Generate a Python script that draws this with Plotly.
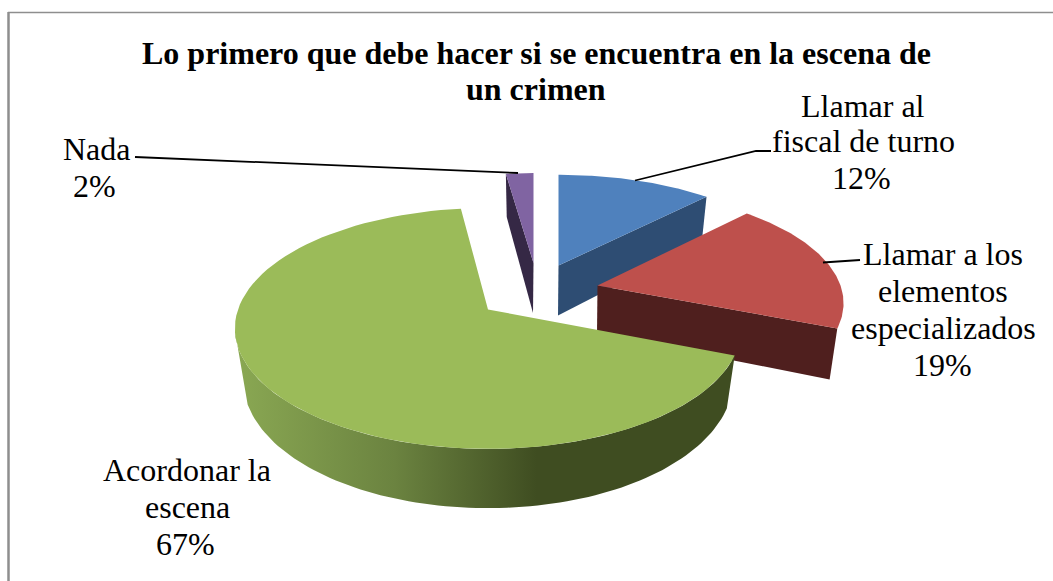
import math
import plotly.graph_objects as go

categories = ["Llamar al fiscal de turno", "Llamar a los elementos especializados", "Acordonar la escena", "Nada"]
values = [12, 19, 67, 2]
title_lines = ["Lo primero que debe hacer si se encuentra en la escena de", "un crimen"]
label_lines = [["Llamar al", "fiscal de turno"], ["Llamar a los", "elementos", "especializados"], ["Acordonar la", "escena"], ["Nada"]]

# drawing geometry (pixel-like axes): exploded apex, semi-axes, depth
apex = [(558.5, 265.5), (597.5, 285.5), (488, 309.5), (533.5, 263)]
semi = [(241, 105), (243, 110), (250, 117.5), (255, 104)]
depths = [50, 48, 50, 50]
top_colors = ["#4f81bd", "#be504c", "#9bbb59", "#8064a2"]
wall_colors = ["#2e4d73", "#4f1f1e", "#3f4d21", "#352845"]
PERSP = 0.157
SHRINK = 0.968
label_pos = [([863, 863, 861], [106, 141, 177.5]), ([943, 943, 943, 942], [254, 291, 328, 365]),
             ([187, 187, 185], [470, 507, 544]), ([97, 94], [149, 186])]
leaders = [[(635, 180.5), (756, 151), (771, 151)], [(823, 262.5), (860, 260)], None, [(135, 157), (518, 173)]]
SERIF = "Liberation Serif"

total = sum(values)
spans, acc = [], 0.0
for v in values:
    spans.append((acc, acc + v / total * 2 * math.pi))
    acc += v / total * 2 * math.pi


def pt(i, t, bottom=False):
    """Project the rim point at clock angle t of slice i."""
    cx, cy = apex[i]
    a, b = semi[i]
    X, Y = math.sin(t), math.cos(t)
    w = 1 + PERSP * Y
    dx, dy = a * X / w, b * Y / w
    if bottom:
        return cx + dx * SHRINK, cy - dy + depths[i] / w
    return cx + dx, cy - dy


def arc(i, t0, t1, bottom=False, n=90):
    return [pt(i, t0 + (t1 - t0) * k / n, bottom) for k in range(n + 1)]


fig = go.Figure()


def poly(points, color, name, gradient=None):
    kw = {"fillgradient": gradient} if gradient else {"fillcolor": color}
    fig.add_trace(go.Scatter(
        x=[p[0] for p in points] + [points[0][0]],
        y=[p[1] for p in points] + [points[0][1]],
        mode="lines", fill="toself", line=dict(width=0, color=color),
        hoverinfo="skip", showlegend=False, name=name, **kw))


def bottom_apex(i):
    return apex[i][0] - 0.5, apex[i][1] + depths[i]


# draw order, far to near: Nada, fiscal, elementos, acordonar
for i in [3, 0, 1, 2]:
    t0, t1 = spans[i]
    name = categories[i]
    if i in (0, 3):  # left cut face visible
        poly([pt(i, t0), apex[i], bottom_apex(i), pt(i, t0, True)], wall_colors[i], name + " lado")
    if i in (0, 1):  # right cut face visible
        poly([apex[i], pt(i, t1), pt(i, t1, True), bottom_apex(i)], wall_colors[i], name + " lado")
    if i == 2:  # outer rim wall, right end dark, left end light
        pts = arc(i, t0, math.radians(260)) + arc(i, math.radians(250), t0, True)
        poly(pts, wall_colors[i], name + " borde", gradient=dict(
            type="horizontal", start=235, stop=590,
            colorscale=[[0, "#8aa853"], [0.45, "#6b8340"], [0.85, "#3f4d21"], [1, "#3f4d21"]]))
    poly([apex[i]] + arc(i, t0, t1), top_colors[i], name)

for seg in leaders:
    if seg:
        fig.add_trace(go.Scatter(x=[p[0] for p in seg], y=[p[1] for p in seg], mode="lines",
                                 line=dict(color="#000000", width=1.8), hoverinfo="skip", showlegend=False))

notes = []
for text, y in zip(title_lines, (52.5, 88.5)):
    notes.append(dict(text="<b>%s</b>" % text, x=536, y=y, font=dict(size=32, color="#000000", family=SERIF)))
for i, (xs, ys) in enumerate(label_pos):
    for text, xc, y in zip(label_lines[i] + ["%d%%" % values[i]], xs, ys):
        notes.append(dict(text=text, x=xc, y=y, font=dict(size=32, color="#000000", family=SERIF)))
for n in notes:
    n.update(xref="x", yref="y", showarrow=False, xanchor="center", yanchor="middle")

fig.update_layout(
    width=1053, height=581, margin=dict(l=0, r=0, t=0, b=0),
    paper_bgcolor="#ffffff", plot_bgcolor="#ffffff", showlegend=False,
    xaxis=dict(range=[0, 1053], visible=False, fixedrange=True),
    yaxis=dict(range=[581, 0], visible=False, fixedrange=True),
    annotations=notes,
    shapes=[
        dict(type="line", xref="x", yref="y", x0=8.5, x1=8.5, y0=12, y1=581, line=dict(color="#8e8e8e", width=2.5)),
        dict(type="line", xref="x", yref="y", x0=8, x1=1053, y0=12.5, y1=12.5, line=dict(color="#8e8e8e", width=1.5)),
    ],
)
fig.write_html("out.html", config={"displayModeBar": False},
               post_script="document.body.style.margin='0';document.documentElement.style.overflow='hidden';")
